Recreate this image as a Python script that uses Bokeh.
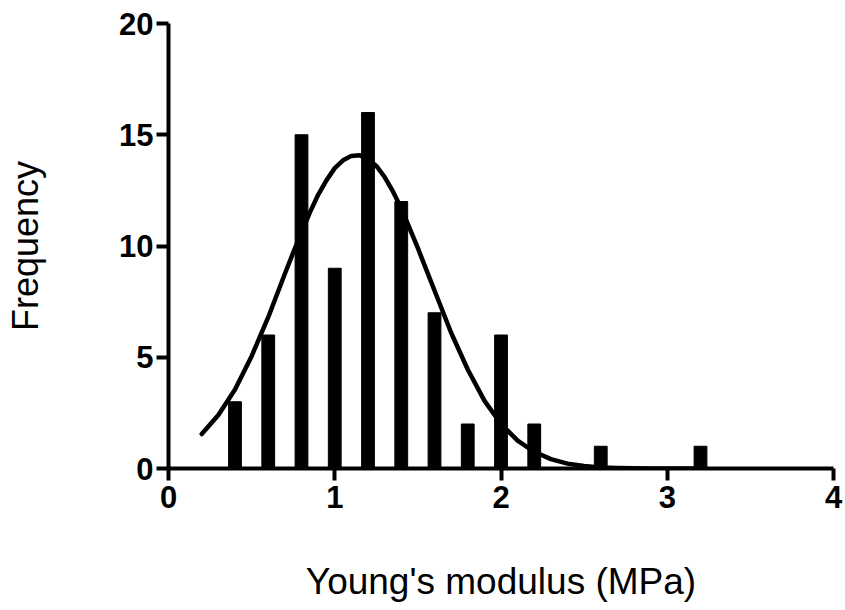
from bokeh.plotting import figure
from bokeh.models import Range1d, FixedTicker
from bokeh.embed import file_html
from bokeh.resources import INLINE

# Histogram data (bin centre, frequency)
bin_centers = [0.4, 0.6, 0.8, 1.0, 1.2, 1.4, 1.6, 1.8, 2.0, 2.2, 2.6, 3.2]
frequencies = [3, 6, 15, 9, 16, 12, 7, 2, 6, 2, 1, 1]

# Fitted curve, values
curve_x = [0.2, 0.3, 0.4, 0.5, 0.6, 0.7, 0.75, 0.8, 0.85, 0.9, 0.95, 1.0, 1.05, 1.1,
           1.15, 1.2, 1.25, 1.3, 1.35, 1.4, 1.45, 1.5, 1.55, 1.6, 1.7, 1.8, 1.9, 2.0,
           2.1, 2.2, 2.3, 2.4, 2.5, 2.6, 2.7, 2.8, 2.9, 3.0, 3.1, 3.2]
curve_y = [1.55, 2.4, 3.55, 5.05, 6.8, 8.75, 9.7, 10.6, 11.5, 12.3, 12.95, 13.5, 13.85,
           14.05, 14.08, 13.9, 13.6, 13.1, 12.45, 11.7, 10.8, 9.9, 8.95, 8.0, 6.1, 4.45,
           3.05, 2.0, 1.25, 0.75, 0.42, 0.22, 0.11, 0.05, 0.025, 0.01, 0.004, 0.002,
           0.001, 0.0]

x_ticks = [0, 1, 2, 3, 4]
y_ticks = [0, 5, 10, 15, 20]
x_title = "Young's modulus (MPa)"
y_title = "Frequency"

FONT = "Liberation Sans"

p = figure(width=843, height=610, output_backend="svg", toolbar_location=None,
           x_range=Range1d(0, 4), y_range=Range1d(0, 20),
           min_border_left=168, min_border_right=10, min_border_top=23,
           min_border_bottom=142)
p.outline_line_color = None
p.xgrid.visible = False
p.ygrid.visible = False
p.background_fill_color = "white"
p.border_fill_color = "white"

p.vbar(x=bin_centers, top=frequencies, bottom=0, width=0.077,
       fill_color="black", line_color="black", line_width=1)
p.line(curve_x, curve_y, line_color="black", line_width=4.5,
       line_join="round", line_cap="round")

for ax, ticks in ((p.xaxis[0], x_ticks), (p.yaxis[0], y_ticks)):
    ax.ticker = FixedTicker(ticks=ticks)
    ax.axis_line_width = 4
    ax.axis_line_color = "black"
    ax.major_tick_line_width = 4
    ax.major_tick_line_color = "black"
    ax.major_tick_out = 12
    ax.major_tick_in = 0
    ax.minor_tick_line_color = None
    ax.major_label_text_font = FONT
    ax.major_label_text_font_style = "bold"
    ax.major_label_text_font_size = "31px"
    ax.major_label_text_color = "black"
    ax.axis_label_text_font = FONT
    ax.axis_label_text_font_style = "normal"
    ax.axis_label_text_color = "black"

p.xaxis[0].major_label_standoff = 5
p.yaxis[0].major_label_standoff = 3

p.yaxis[0].axis_label = y_title
p.yaxis[0].axis_label_text_font_size = "36px"
p.yaxis[0].axis_label_standoff = 70

p.xaxis[0].axis_label = x_title
p.xaxis[0].axis_label_text_font_size = "37px"
p.xaxis[0].axis_label_standoff = 50

open("out.html", "w").write(file_html(p, INLINE))
